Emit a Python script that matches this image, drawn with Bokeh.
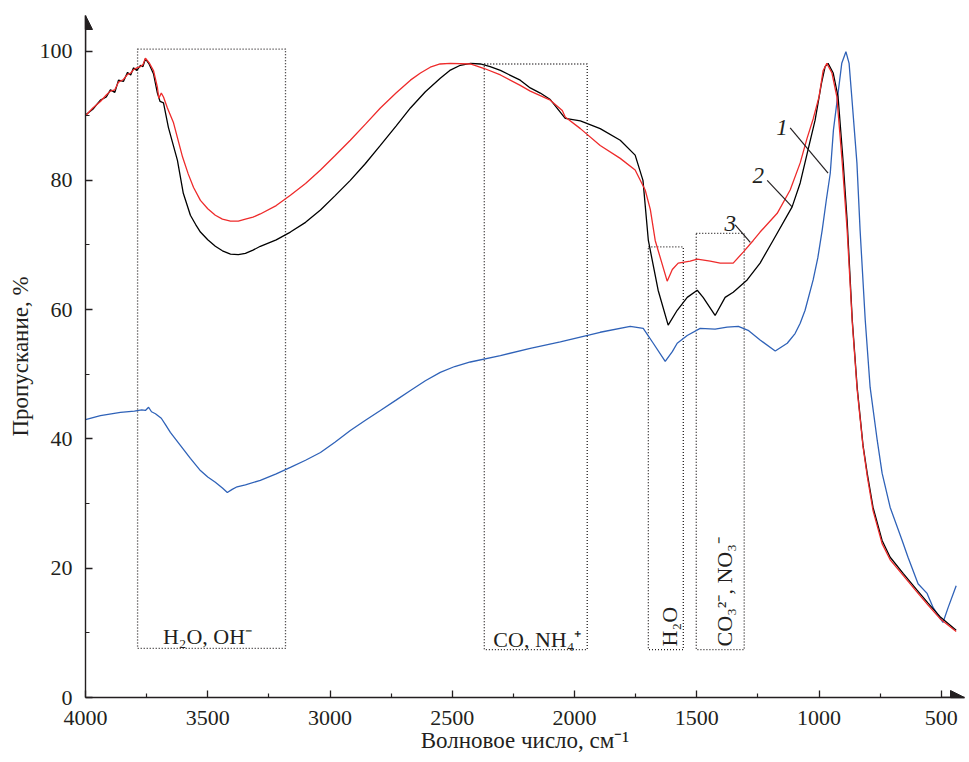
from bokeh.plotting import figure
from bokeh.models import Range1d, FixedTicker, Arrow, NormalHead
from bokeh.core.properties import value
from bokeh.embed import file_html
from bokeh.resources import INLINE

# ---------------- data ----------------
# curve 1 (blue)
x1 = [4000, 3939, 3857, 3800, 3770, 3755, 3742, 3730, 3714, 3690, 3673, 3653, 3612, 3571,
      3530, 3500, 3469, 3440, 3420, 3400, 3380, 3346, 3285, 3220, 3162, 3100, 3039, 2980,
      2917, 2855, 2794, 2730, 2671, 2610, 2549, 2490, 2426, 2303, 2181, 2058, 1895, 1772,
      1719, 1678, 1629, 1600, 1580, 1539, 1486, 1425, 1376, 1330, 1290, 1241, 1179, 1130,
      1098, 1077, 1057, 1024, 1005, 987, 970, 954, 941, 924, 907, 890, 877, 866, 845, 832,
      811, 791, 762, 742, 709, 660, 636, 595, 558, 533, 493, 472, 439]
y1 = [43.0, 43.6, 44.1, 44.3, 44.5, 44.4, 44.9, 44.2, 43.9, 43.2, 42.2, 41.0, 39.0, 37.0,
      35.1, 34.1, 33.3, 32.4, 31.7, 32.2, 32.6, 32.9, 33.6, 34.6, 35.6, 36.7, 37.9, 39.5,
      41.3, 42.9, 44.4, 46.0, 47.5, 49.0, 50.3, 51.2, 51.9, 52.9, 54.0, 55.0, 56.5, 57.4,
      57.1, 54.8, 52.0, 53.5, 54.8, 56.0, 57.1, 57.0, 57.3, 57.4, 56.8, 55.3, 53.6, 54.8,
      56.3, 57.9, 59.9, 64.6, 68.0, 72.3, 77.0, 81.1, 87.8, 92.9, 98.1, 99.9, 98.1, 92.9, 82.7, 72.3,
      58.4, 48.0, 39.8, 34.7, 29.4, 24.3, 21.7, 17.6, 16.1, 13.9, 11.6, 13.9, 17.3]

# curve 2 (black)
x2 = [4000, 3970, 3939, 3915, 3898, 3880, 3865, 3845, 3828, 3815, 3804, 3790, 3775, 3765,
      3755, 3740, 3722, 3706, 3695, 3681, 3661, 3624, 3600, 3571, 3550, 3530, 3500, 3469,
      3440, 3407, 3375, 3346, 3315, 3285, 3220, 3162, 3100, 3039, 2980, 2917, 2855, 2794,
      2730, 2671, 2610, 2549, 2510, 2467, 2425, 2385, 2345, 2303, 2222, 2181, 2140, 2099,
      2038, 1976, 1895, 1813, 1752, 1720, 1698, 1658, 1617, 1580, 1539, 1498, 1474, 1425,
      1384, 1351, 1294, 1241, 1188, 1110, 1077, 1045, 1016, 990, 975, 963, 942, 922, 901, 885,
      864, 844, 820, 803, 779, 742, 709, 656, 599, 554, 505, 439]
y2 = [90.1, 91.0, 92.4, 92.9, 94.0, 93.6, 95.5, 95.3, 96.7, 96.3, 97.4, 97.0, 97.8, 97.6,
      98.8, 98.0, 96.5, 93.5, 92.2, 92.0, 88.2, 83.1, 78.0, 74.6, 73.2, 72.0, 70.8, 69.8,
      69.1, 68.6, 68.5, 68.7, 69.2, 69.8, 70.8, 72.0, 73.5, 75.4, 77.6, 80.0, 82.6, 85.4,
      88.4, 91.2, 93.7, 95.8, 97.0, 97.8, 98.1, 98.0, 97.6, 97.0, 95.5, 94.3, 93.5, 92.5,
      89.6, 89.2, 88.0, 86.2, 83.9, 80.0, 70.7, 63.0, 57.6, 59.9, 61.9, 63.0, 61.9, 59.1,
      61.9, 62.7, 64.6, 67.2, 70.7, 75.9, 79.6, 84.7, 89.3, 95.0, 97.6, 98.1, 96.6, 92.9, 82.7, 73.8,
      58.4, 48.0, 39.0, 34.7, 29.4, 24.3, 21.7, 19.2, 16.6, 14.6, 12.5, 10.4]

# curve 3 (red)
x3 = [4000, 3970, 3939, 3915, 3898, 3880, 3865, 3845, 3828, 3815, 3804, 3790, 3775, 3765,
      3755, 3740, 3722, 3706, 3700, 3690, 3681, 3665, 3640, 3603, 3580, 3558, 3530, 3500,
      3469, 3440, 3407, 3375, 3346, 3315, 3285, 3220, 3162, 3100, 3039, 2980, 2917, 2855,
      2794, 2730, 2671, 2630, 2590, 2550, 2508, 2426, 2369, 2303, 2222, 2181, 2099, 2050,
      2038, 1976, 1895, 1813, 1752, 1711, 1690, 1670, 1621, 1600, 1576, 1527, 1498, 1445,
      1404, 1351, 1310, 1269, 1241, 1171, 1118, 1077, 1049, 1024, 1000, 983, 968, 947, 927,
      905, 885, 864, 844, 820, 803, 779, 742, 709, 656, 599, 554, 505, 439]
y3 = [90.0, 91.2, 92.2, 93.2, 93.8, 94.0, 95.2, 95.6, 96.4, 96.6, 97.1, 97.4, 97.6, 97.9,
      98.9, 98.2, 97.0, 94.4, 92.7, 93.5, 92.9, 91.2, 88.9, 83.6, 81.0, 78.9, 76.9, 75.6,
      74.6, 74.0, 73.7, 73.7, 74.0, 74.3, 74.8, 76.1, 77.7, 79.5, 81.6, 83.8, 86.2, 88.7,
      91.2, 93.5, 95.5, 96.6, 97.5, 98.0, 98.1, 98.0, 97.3, 96.3, 94.7, 93.8, 92.4, 90.8,
      89.8, 88.0, 85.4, 83.4, 81.6, 78.5, 75.5, 70.7, 64.4, 66.2, 67.2, 67.5, 67.8, 67.5,
      67.2, 67.2, 68.9, 70.7, 72.0, 74.9, 78.5, 82.7, 86.5, 89.5, 92.9, 97.0, 98.1, 96.6, 92.9,
      82.7, 72.3, 58.0, 47.6, 38.8, 34.3, 28.9, 23.8, 21.3, 18.9, 16.3, 14.3, 12.2, 10.2]

# dotted assignment boxes
box_left = [3787, 2369, 1698, 1502]
box_right = [3182, 1948, 1555, 1306]
box_top = [100.3, 98.0, 69.7, 71.8]
box_bottom = [7.6, 7.4, 7.4, 7.4]

# horizontal box labels
hlabel_text = ["H\u2082O, OH\u207b", "CO, NH\u2084\u207a"]
hlabel_x = [3501, 2152]
hlabel_y = [9.4, 8.9]

# vertical box labels
vlabel_text = ["H\u2082O", "CO\u2083\u00b2\u207b, NO\u2083\u207b"]
vlabel_x = [1612, 1388]
vlabel_y = [7.9, 7.9]

# curve numbers and leader lines
num_text = ["1", "2", "3"]
num_x = [1151, 1249, 1363]
num_y = [88.1, 80.7, 73.4]
lead_x0 = [1118, 1212, 1343]
lead_y0 = [88.1, 80.0, 73.1]
lead_x1 = [963, 1110, 1281]
lead_y1 = [81.1, 75.9, 70.4]

x_ticks = [4000, 3500, 3000, 2500, 2000, 1500, 1000, 500]
x_minor = [3750, 3250, 2750, 2250, 1750, 1250, 750]
y_ticks = [0, 20, 40, 60, 80, 100]
y_minor = [10, 30, 50, 70, 90]

# ---------------- figure ----------------
INK = "#231f20"
FONT = "Liberation Serif"

p = figure(width=969, height=762, x_range=Range1d(4000, 405), y_range=Range1d(0, 105.5),
           output_backend="svg", toolbar_location=None,
           min_border_left=85, min_border_right=5, min_border_top=15, min_border_bottom=65)
p.outline_line_color = None
p.xgrid.visible = False
p.ygrid.visible = False
p.background_fill_color = "white"
p.border_fill_color = "white"

for ax in (p.xaxis[0], p.yaxis[0]):
    ax.axis_line_color = INK
    ax.axis_line_width = 1.4
    ax.major_tick_line_color = INK
    ax.minor_tick_line_color = INK
    ax.major_tick_line_width = 1.3
    ax.minor_tick_line_width = 1.2
    ax.major_tick_in = 7
    ax.major_tick_out = 0
    ax.minor_tick_in = 4
    ax.minor_tick_out = 0
    ax.major_label_text_font = FONT
    ax.major_label_text_font_size = "22px"
    ax.major_label_text_color = INK
    ax.axis_label_text_font = FONT
    ax.axis_label_text_font_size = "23px"
    ax.axis_label_text_font_style = "normal"
    ax.axis_label_text_color = INK

p.xaxis.ticker = FixedTicker(ticks=x_ticks, minor_ticks=x_minor)
p.yaxis.ticker = FixedTicker(ticks=y_ticks, minor_ticks=y_minor)
p.xaxis.axis_label = "Волновое число, см\u207b\u00b9"
p.yaxis.axis_label = "Пропускание, %"
p.xaxis.major_label_standoff = 13
p.xaxis.axis_label_standoff = 0
p.yaxis.major_label_standoff = 13
p.yaxis.axis_label_standoff = 4

# axis arrow heads
p.add_layout(Arrow(end=NormalHead(size=14, fill_color=INK, line_color=INK, line_width=1),
                   x_start=4000, y_start=100, x_end=4000, y_end=105.5,
                   line_color=INK, line_width=1.4))
p.add_layout(Arrow(end=NormalHead(size=14, fill_color=INK, line_color=INK, line_width=1),
                   x_start=500, y_start=0, x_end=405, y_end=0,
                   line_color=INK, line_width=1.4))

# dotted boxes
p.quad(left=box_left, right=box_right, top=box_top, bottom=box_bottom,
       fill_color=None, line_color=INK, line_width=1.3, line_dash="1 2")

# curves
p.line(x1, y1, line_color="#2f62b8", line_width=1.3)
p.line(x2, y2, line_color="#000000", line_width=1.3)
p.line(x3, y3, line_color="#ee2b2b", line_width=1.3)

# labels
p.text(x=hlabel_x, y=hlabel_y, text=hlabel_text, text_font=value(FONT),
       text_font_size="22px", text_color=INK, text_align="center", text_baseline="alphabetic")
p.text(x=vlabel_x, y=vlabel_y, text=vlabel_text, text_font=value(FONT), angle=1.5708,
       text_font_size="22px", text_color=INK, text_align="left", text_baseline="alphabetic")

p.segment(x0=lead_x0, y0=lead_y0, x1=lead_x1, y1=lead_y1, line_color=INK, line_width=1.2)
p.text(x=num_x, y=num_y, text=num_text, text_font=value(FONT), text_font_style="italic",
       text_font_size="23px", text_color=INK, text_align="center", text_baseline="alphabetic")

open("out.html", "w").write(file_html(p, INLINE))
